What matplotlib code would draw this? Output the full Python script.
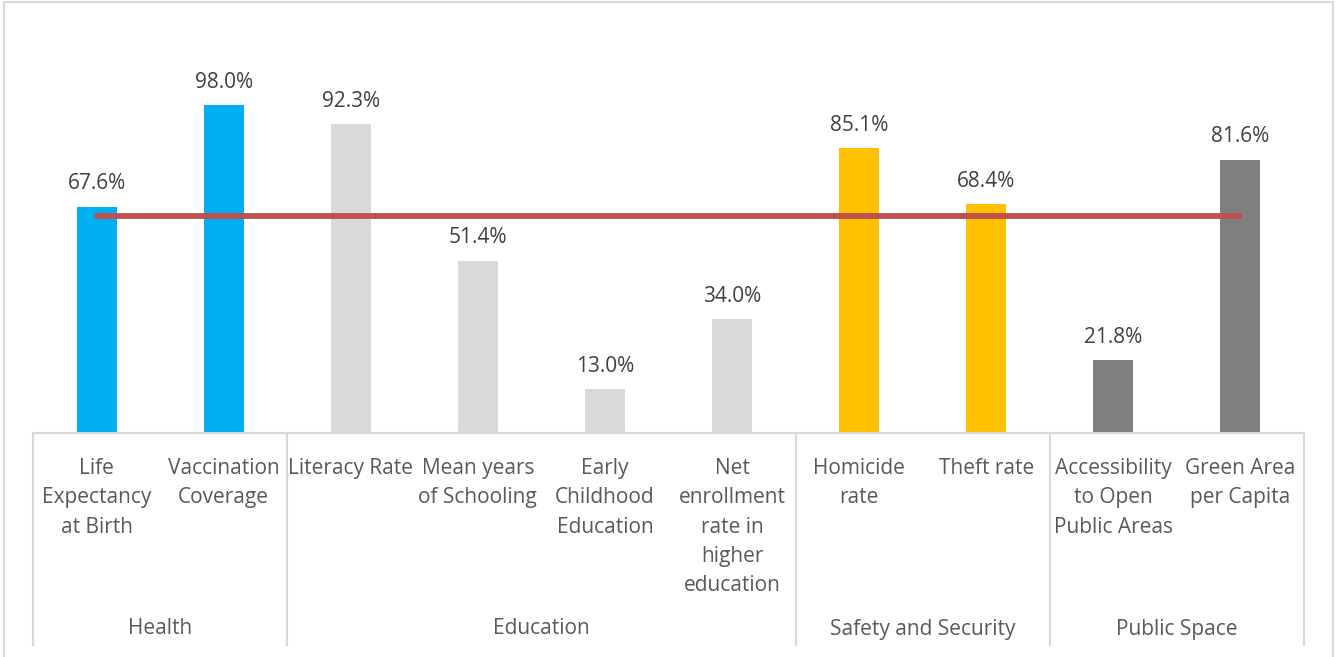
import matplotlib
matplotlib.use("Agg")
import matplotlib.pyplot as plt
from matplotlib.patches import Rectangle
import matplotlib.transforms as mtransforms

plt.rcParams["font.family"] = ["Open Sans", "DejaVu Sans"]

categories = [
    "Life\nExpectancy\nat Birth",
    "Vaccination\nCoverage",
    "Literacy Rate",
    "Mean years\nof Schooling",
    "Early\nChildhood\nEducation",
    "Net\nenrollment\nrate in\nhigher\neducation",
    "Homicide\nrate",
    "Theft rate",
    "Accessibility\nto Open\nPublic Areas",
    "Green Area\nper Capita",
]
values = [67.6, 98.0, 92.3, 51.4, 13.0, 34.0, 85.1, 68.4, 21.8, 81.6]
groups = ["Health", "Education", "Safety and Security", "Public Space"]
group_sizes = [2, 4, 2, 2]
group_colors = ["#00B0F0", "#D9D9D9", "#FFC000", "#7F7F7F"]
target = 64.7

W, H = 1338, 657
fig = plt.figure(figsize=(W / 100, H / 100), dpi=100)

# outer chart border
fig.patches.append(Rectangle((3.5 / W, -0.05), (1333 - 3.5) / W, 1.05 - 1.5 / H,
                             transform=fig.transFigure, fill=False,
                             edgecolor="#D9D9D9", linewidth=1.5))

ax_bottom = 1 - 433 / H
ax_top = 1 - 31.4 / H
ax = fig.add_axes([33 / W, ax_bottom, (1304 - 33) / W, ax_top - ax_bottom])
ax.set_xlim(-0.5, len(values) - 0.5)
ax.set_ylim(0, 120)
ax.axis("off")

colors = []
for c, n in zip(group_colors, group_sizes):
    colors += [c] * n

x = list(range(len(values)))
ax.bar(x, values, width=0.315, color=colors, zorder=2)
ax.plot([x[0], x[-1]], [target, target], color="#C0504D", linewidth=4.2,
        solid_capstyle="round", zorder=3)

for xi, v in zip(x, values):
    ax.annotate(f"{v:.1f}%", (xi, v), xytext=(0, 9), textcoords="offset points",
                ha="center", va="bottom", fontsize=15, color="#404040")

trans = mtransforms.blended_transform_factory(ax.transData, ax.transAxes)
px = 1 / (433 - 31.4)

# category axis with group separators
ax.plot([-0.5, len(values) - 0.5], [0, 0], color="#D9D9D9", linewidth=1.5,
        transform=trans, clip_on=False)
edges = [-0.5]
for n in group_sizes:
    edges.append(edges[-1] + n)
for e in edges:
    ax.plot([e, e], [0, -212 * px], color="#D9D9D9", linewidth=1.5,
            transform=trans, clip_on=False)

for xi, label in zip(x, categories):
    ax.text(xi, -25 * px, label, transform=trans, ha="center", va="top",
            fontsize=15, color="#595959", linespacing=1.52)

for i, g in enumerate(groups):
    mid = (edges[i] + edges[i + 1]) / 2
    ax.text(mid, -196 * px, g, transform=trans, ha="center", va="center",
            fontsize=15, color="#595959")

fig.savefig("out.png", dpi=100)
